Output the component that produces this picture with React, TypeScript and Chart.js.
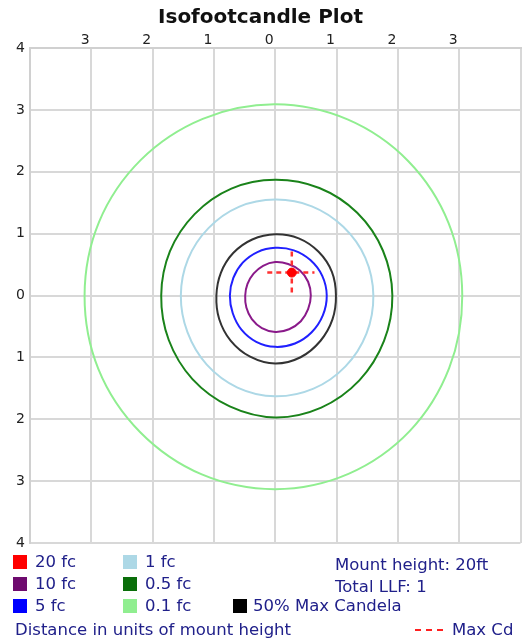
import { useEffect, useRef } from 'react';
import { Chart, registerables } from 'chart.js';

Chart.register(...registerables);

// ---- data (units of mount height) ----
const angleDeg = [0, 22.5, 45, 67.5, 90, 112.5, 135, 157.5, 180, 202.5, 225, 247.5, 270, 292.5, 315, 337.5];

const r20fc: number[] = [];
const r10fc = [0.58, 0.58, 0.57, 0.55, 0.54, 0.52, 0.5, 0.49, 0.49, 0.51, 0.54, 0.57, 0.59, 0.59, 0.59, 0.58];
const r5fc = [0.84, 0.83, 0.81, 0.79, 0.77, 0.76, 0.75, 0.74, 0.74, 0.75, 0.78, 0.81, 0.83, 0.84, 0.84, 0.84];
const r1fc = [1.6, 1.59, 1.57, 1.56, 1.55, 1.55, 1.54, 1.54, 1.54, 1.55, 1.58, 1.61, 1.63, 1.63, 1.62, 1.61];
const r05fc = [1.91, 1.9, 1.89, 1.88, 1.87, 1.87, 1.86, 1.86, 1.86, 1.88, 1.91, 1.94, 1.97, 1.96, 1.94, 1.92];
const r01fc = [3.05, 3.06, 3.07, 3.08, 3.09, 3.09, 3.1, 3.11, 3.11, 3.12, 3.12, 3.13, 3.13, 3.12, 3.1, 3.07];
const r50MaxCd = [0.99, 1.0, 1.0, 1.0, 0.99, 0.98, 0.97, 0.96, 0.96, 0.99, 1.03, 1.07, 1.1, 1.08, 1.04, 1.01];

const maxCdPoint = { x: 0.27, y: 0.37 };
const maxCdHLineX = [-0.13, 0.64];
const maxCdVLineY = [0.71, 0.0];

const xTickLabels = ['', '3', '2', '1', '0', '1', '2', '3', ''];
const yTickLabels = ['4', '3', '2', '1', '0', '1', '2', '3', '4'];

const legendLabels = ['20 fc', '10 fc', '5 fc', '1 fc', '0.5 fc', '0.1 fc', '50% Max Candela'];
const legendColors = ['#ff0000', '#6e0a6e', '#0000ff', '#add8e6', '#0a6e0a', '#90ee90', '#000000'];
const lineColors = ['#ff0000', '#8a1a8a', '#2020ff', '#add8e6', '#1a831a', '#90ee90', '#333333'];
const infoLines = ['Mount height: 20ft', 'Total LLF: 1'];
const axisNote = 'Distance in units of mount height';
const maxCdLabel = 'Max Cd';

// closed loop: padded with wrap-around neighbours so the curve is smooth at the seam
const toLoop = (radii: number[]) => {
  const pts = radii.map((r, i) => {
    const a = (angleDeg[i] * Math.PI) / 180;
    return { x: r * Math.cos(a), y: r * Math.sin(a) };
  });
  const n = pts.length;
  if (!n) return [];
  return [pts[n - 1], ...pts, pts[0], pts[1]];
};

const TEXT = '#20208a';
const FONT = '"DejaVu Sans", sans-serif';

export default function App() {
  const ref = useRef<HTMLCanvasElement | null>(null);

  useEffect(() => {
    if (!ref.current) return;
    const contours = [r20fc, r10fc, r5fc, r1fc, r05fc, r01fc, r50MaxCd];
    const contourSets = contours.map((r, i) => {
      const data = toLoop(r);
      const last = data.length - 2;
      return {
        label: legendLabels[i],
        data,
        showLine: true,
        borderColor: lineColors[i],
        backgroundColor: lineColors[i],
        borderWidth: 2,
        pointRadius: 0,
        tension: 0.34,
        fill: false,
        segment: {
          borderColor: (ctx: any) =>
            ctx.p0DataIndex === 0 || ctx.p0DataIndex === last ? 'rgba(0,0,0,0)' : undefined,
        },
      };
    });
    const chart = new Chart(ref.current, {
      type: 'scatter',
      data: {
        datasets: [
          {
            label: 'Max Cd',
            data: [maxCdPoint],
            pointRadius: 4.5,
            pointBackgroundColor: '#ff0000',
            pointBorderColor: '#ff0000',
            showLine: false,
          },
          {
            label: 'Max Cd H',
            data: maxCdHLineX.map((x) => ({ x, y: maxCdPoint.y })),
            showLine: true,
            borderColor: '#ff3030',
            borderWidth: 2.5,
            borderDash: [5, 4],
            pointRadius: 0,
          },
          {
            label: 'Max Cd V',
            data: maxCdVLineY.map((y) => ({ x: maxCdPoint.x, y })),
            showLine: true,
            borderColor: '#ff3030',
            borderWidth: 2.5,
            borderDash: [5, 4],
            pointRadius: 0,
          },
          ...contourSets,
        ],
      } as any,
      options: {
        responsive: false,
        animation: false,
        events: [],
        layout: { padding: { left: 0, right: 5, top: 0, bottom: 101 } },
        plugins: {
          legend: { display: false },
          tooltip: { enabled: false },
          title: {
            display: true,
            text: 'Isofootcandle Plot',
            color: '#111',
            font: { family: FONT, size: 20, weight: 'bold', lineHeight: 1.2 },
            padding: { top: 6, bottom: 0 },
          },
        },
        scales: {
          x: {
            type: 'linear',
            position: 'top',
            min: -4,
            max: 4,
            afterFit: (s: any) => {
              s.height = 18;
            },
            ticks: {
              stepSize: 1,
              padding: -1,
              labelOffset: -6,
              maxRotation: 0,
              autoSkip: false,
              color: '#222',
              font: { family: FONT, size: 14 },
              callback: (_v: any, i: number) => xTickLabels[i],
            },
            grid: { color: '#d8d8d8', lineWidth: 2, drawTicks: false },
            border: { color: '#d0d0d0', width: 2 },
          },
          y: {
            type: 'linear',
            position: 'left',
            min: -4,
            max: 4,
            afterFit: (s: any) => {
              s.width = 30;
            },
            ticks: {
              stepSize: 1,
              padding: 5,
              autoSkip: false,
              color: '#222',
              font: { family: FONT, size: 14 },
              callback: (_v: any, i: number) => yTickLabels[i],
            },
            grid: { color: '#d8d8d8', lineWidth: 2, drawTicks: false },
            border: { color: '#d0d0d0', width: 2 },
          },
        },
      } as any,
    });
    return () => chart.destroy();
  }, []);

  const sq = (color: string, left: number, cy: number) => (
    <div style={{ position: 'absolute', left, top: cy - 7, width: 14, height: 14, background: color }} />
  );
  const txt = (s: string, left: number, cy: number) => (
    <div
      style={{
        position: 'absolute',
        left,
        top: cy - 10,
        height: 20,
        lineHeight: '20px',
        fontFamily: FONT,
        fontSize: 16.5,
        color: TEXT,
        whiteSpace: 'nowrap',
      }}
    >
      {s}
    </div>
  );

  const rows = [562, 584, 606];
  return (
    <div style={{ position: 'absolute', left: 0, top: 0, width: 526, height: 644, background: '#fff' }}>
      <canvas ref={ref} width={526} height={644} style={{ display: 'block' }} />
      {sq(legendColors[0], 13, rows[0])}
      {txt(legendLabels[0], 35, rows[0])}
      {sq(legendColors[1], 13, rows[1])}
      {txt(legendLabels[1], 35, rows[1])}
      {sq(legendColors[2], 13, rows[2])}
      {txt(legendLabels[2], 35, rows[2])}
      {sq(legendColors[3], 123, rows[0])}
      {txt(legendLabels[3], 145, rows[0])}
      {sq(legendColors[4], 123, rows[1])}
      {txt(legendLabels[4], 145, rows[1])}
      {sq(legendColors[5], 123, rows[2])}
      {txt(legendLabels[5], 145, rows[2])}
      {sq(legendColors[6], 233, rows[2])}
      {txt(legendLabels[6], 253, rows[2])}
      {txt(infoLines[0], 335, rows[0] + 3)}
      {txt(infoLines[1], 335, rows[1] + 3)}
      {txt(axisNote, 15, 630)}
      <div
        style={{
          position: 'absolute',
          left: 415,
          top: 629,
          width: 28,
          height: 0,
          borderTop: '2px dashed #ff2020',
        }}
      />
      {txt(maxCdLabel, 452, 630)}
    </div>
  );
}
